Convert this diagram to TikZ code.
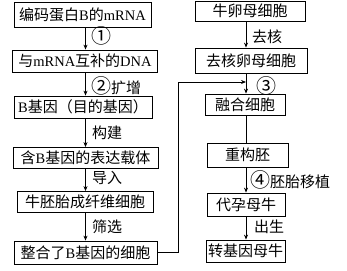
\documentclass[tikz,border=0pt]{standalone}
\usepackage{fontspec}
\setmainfont{Noto Sans CJK SC}
\newfontfamily\lat{Liberation Serif}
\usetikzlibrary{arrows.meta,calc}
\newcommand{\la}[1]{{\lat\fontsize{14.5}{16}\selectfont #1}}
\newcommand{\cn}[1]{\raisebox{-0.5pt}{\fontsize{20}{20}\selectfont #1}}
\begin{document}
\begin{tikzpicture}[x=1pt,y=-1pt,
  box/.style={draw,line width=0.8pt,inner sep=0pt,font=\fontsize{15}{16}\selectfont},
  lab/.style={anchor=west,inner sep=0pt,font=\fontsize{15}{16}\selectfont},
  arr/.style={line width=0.8pt,-{Stealth[length=5pt,width=4pt]}},
  ln/.style={line width=0.8pt}]
\useasboundingbox (0,0) rectangle (347,270);
% left column
\node[box,minimum width=137pt,minimum height=25pt] (b1) at (82.5,14.5) {编码蛋白\la{B}的\la{mRNA}};
\node[box,minimum width=145pt,minimum height=22pt] (b2) at (85,61) {与\la{mRNA}互补的\la{DNA}};
\node[box,minimum width=138pt,minimum height=22pt] (b3) at (83,107) {\la{B}基因（目的基因）};
\node[box,minimum width=145pt,minimum height=21pt] (b4) at (85.5,158) {含\la{B}基因的表达载体};
\node[box,minimum width=136pt,minimum height=21pt] (b5) at (85,202) {牛胚胎成纤维细胞};
\node[box,minimum width=143pt,minimum height=23pt] (b6) at (85.5,252.5) {整合了\la{B}基因的细胞};
% right column
\node[box,minimum width=110pt,minimum height=20pt] (r1) at (250,11) {牛卵母细胞};
\node[box,minimum width=112pt,minimum height=25pt] (r2) at (251,60.5) {去核卵母细胞};
\node[box,minimum width=80pt,minimum height=21pt] (r3) at (245,104.5) {融合细胞};
\node[box,minimum width=81pt,minimum height=24pt] (r4) at (247.5,155) {重构胚};
\node[box,minimum width=78pt,minimum height=23pt] (r5) at (246,204.5) {代孕母牛};
\node[box,minimum width=79pt,minimum height=22pt] (r6) at (245.5,251) {转基因母牛};
\coordinate (la) at (85.5,0);
\coordinate (ra) at (246,0);
\coordinate (lx) at (178.5,0);
\coordinate (ly) at (0,82);
% left arrows
\draw[arr] (b1.south -| la) -- (b2.north -| la);
\draw[arr] (b2.south -| la) -- (b3.north -| la);
\draw[arr] (b3.south -| la) -- (b4.north -| la);
\draw[arr] (b4.south -| la) -- (b5.north -| la);
\draw[arr] (b5.south -| la) -- (b6.north -| la);
% right arrows
\draw[arr] (r1.south -| ra) -- (r2.north -| ra);
\draw[arr] (r2.south -| ra) -- (r3.north -| ra);
\draw[ln] (r3.south -| ra) -- (r4.north -| ra);
\draw[arr] (r4.south -| ra) -- (r5.north -| ra);
\draw[arr] (r5.south -| ra) -- (r6.north -| ra);
% loop
\draw[arr] (b6.east) -- (b6.east -| lx) -- (lx |- ly) -- (ra |- ly);
% labels
\node[lab] (l1) at (91,36) {\cn{①}};
\node[lab] (l2) at (91,86) {\cn{②}扩增};
\node[lab] (l3) at (92,133) {构建};
\node[lab] (l4) at (92,178) {导入};
\node[lab] (l5) at (92,227) {筛选};
\node[lab] (l6) at (252,37) {去核};
\node[lab] (l7) at (256,86) {\cn{③}};
\node[lab] (l8) at (250,180) {\cn{④}胚胎移植};
\node[lab] (l9) at (254,227) {出生};
\end{tikzpicture}
\end{document}
